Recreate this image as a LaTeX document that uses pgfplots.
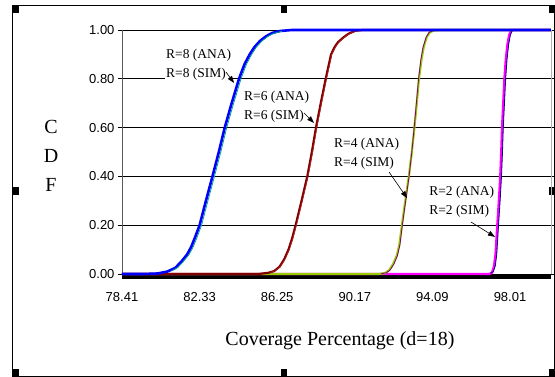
\documentclass[border=0pt]{standalone}
\usepackage{pgfplots}
\pgfplotsset{compat=1.18}
\usepackage{fontspec}
\setmainfont{Liberation Serif}
\newfontfamily\arial{Liberation Sans}
\usetikzlibrary{arrows.meta}
\definecolor{cblue}{RGB}{0,0,255}
\definecolor{cteal}{RGB}{0,160,140}
\definecolor{cmaroon}{RGB}{128,0,0}
\definecolor{cmaroon2}{RGB}{170,30,30}
\definecolor{cyg}{RGB}{153,204,0}
\definecolor{cpurple}{RGB}{128,0,128}
\definecolor{cmag}{RGB}{255,0,255}
\definecolor{cnavy}{RGB}{0,0,128}
\begin{document}
\begin{tikzpicture}
\useasboundingbox (-122pt,-103pt) rectangle (433pt,274pt);
% chart frame with selection handles
\draw[black, line width=0.8pt] (-109.5pt,-102.5pt) rectangle (432.5pt,269pt);
\foreach \hx in {-109pt,159pt,427pt}{
  \fill[black] (\hx,261pt) rectangle ++(6pt,8pt);
  \fill[black] (\hx,-103pt) rectangle ++(6pt,8pt);
}
\fill[black] (-109pt,79pt) rectangle ++(6pt,8pt);
\fill[black] (427pt,79pt) rectangle ++(6pt,8pt);
\begin{axis}[
  at={(0pt,0pt)}, anchor=south west,
  scale only axis, width=429pt, height=244pt,
  xmin=78.41, xmax=100.08, ymin=0, ymax=1,
  clip=false,
  axis line style={draw=none},
  xtick={78.41,82.33,86.25,90.17,94.09,98.01},
  xticklabels={78.41,82.33,86.25,90.17,94.09,98.01},
  x tick style={draw=none},
  ytick={0,0.2,0.4,0.6,0.8,1},
  y tick style={black, line width=0.6pt},
  tick align=outside, major tick length=4pt,
  ymajorgrids, grid style={black, line width=0.6pt},
  /pgf/number format/assume math mode=true,
  yticklabel={\pgfmathprintnumber[fixed,fixed zerofill,precision=2]{\tick}},
  tick label style={font=\arial\fontsize{13}{15}\selectfont},
  xticklabel style={yshift=-11pt},
  xlabel={Coverage Percentage (d=18)},
  xlabel style={at={(axis description cs:0.508,-0.2746)}, anchor=center, font=\fontsize{20}{23}\selectfont},
  ylabel={C\\D\\F},
  ylabel style={rotate=-90, align=center, at={(axis description cs:-0.1655,0.484)}, anchor=center, font=\fontsize{20}{29}\selectfont},
]
\draw[gray!70!black, line width=0.8pt] (rel axis cs:0,0) -- (rel axis cs:0,1);
\draw[gray!60, line width=0.8pt] (rel axis cs:1,0) -- (rel axis cs:1,1);
\draw[black, line width=4.5pt] ([yshift=-2.3pt]rel axis cs:0,0) -- ([yshift=-2.3pt]rel axis cs:1,0);
% R=2
\addplot[cmag, line width=2.4pt, line join=round] coordinates {(78.41,0) (96.95,0) (97.1,0.005) (97.2,0.03) (97.28,0.08) (97.37,0.2) (97.45,0.3) (97.52,0.4) (97.57,0.5) (97.61,0.6) (97.67,0.7) (97.73,0.8) (97.8,0.88) (97.88,0.94) (97.97,0.98) (98.09,1) (100.08,1)};
\addplot[cnavy, line width=0.8pt] coordinates {(97.03,0.003) (97.17,0.01) (97.27,0.035) (97.34,0.08) (97.43,0.2) (97.51,0.3) (97.58,0.4) (97.63,0.5) (97.67,0.6) (97.73,0.7) (97.79,0.8) (97.86,0.88) (97.94,0.94) (98.03,0.98) (98.13,0.998)};
% R=4
\addplot[cyg, line width=2.2pt, line join=round] coordinates {(78.41,0) (91.4,0) (91.7,0.004) (91.9,0.015) (92.1,0.04) (92.29,0.075) (92.42,0.12) (92.55,0.2) (92.72,0.3) (92.90,0.4) (93.05,0.5) (93.18,0.6) (93.30,0.7) (93.41,0.8) (93.54,0.88) (93.65,0.93) (93.8,0.97) (93.95,0.99) (94.16,0.998) (94.4,1) (100.08,1)};
\addplot[cpurple, line width=0.8pt] coordinates {(91.5,0.001) (91.76,0.005) (91.95,0.016) (92.14,0.04) (92.32,0.075) (92.45,0.12) (92.57,0.2) (92.74,0.3) (92.91,0.4) (93.05,0.5) (93.17,0.6) (93.28,0.7) (93.39,0.8) (93.51,0.88) (93.62,0.93) (93.77,0.97) (93.92,0.99) (94.12,0.998) (94.3,1)};
% R=6
\addplot[cmaroon, line width=2.2pt, line join=round] coordinates {(78.41,0) (85.3,0) (85.8,0.005) (86.1,0.012) (86.37,0.03) (86.6,0.06) (86.82,0.1) (87.0,0.145) (87.18,0.2) (87.48,0.3) (87.77,0.4) (88.0,0.5) (88.21,0.6) (88.45,0.7) (88.70,0.8) (88.97,0.9) (89.15,0.93) (89.32,0.95) (89.6,0.97) (89.86,0.985) (90.2,0.997) (90.6,1) (100.08,1)};
\addplot[cmaroon2, line width=0.7pt] coordinates {(85.9,0.006) (86.15,0.013) (86.41,0.03) (86.64,0.06) (86.86,0.1) (87.04,0.145) (87.22,0.2) (87.52,0.3) (87.81,0.4) (88.04,0.5) (88.25,0.6) (88.49,0.7) (88.74,0.8) (89.01,0.9) (89.19,0.93) (89.36,0.95) (89.64,0.97) (89.9,0.985) (90.24,0.997)};
% R=8
\addplot[cblue, line width=2.6pt, line join=round] coordinates {(78.41,0) (79.5,0) (80.2,0.002) (80.7,0.01) (81.1,0.025) (81.4,0.05) (81.7,0.08) (81.9,0.11) (82.1,0.15) (82.33,0.2) (82.65,0.3) (82.98,0.4) (83.3,0.5) (83.6,0.6) (83.95,0.7) (84.32,0.8) (84.6,0.86) (84.86,0.9) (85.1,0.93) (85.38,0.955) (85.7,0.975) (86.0,0.988) (86.4,0.996) (87,1) (100.08,1)};
\addplot[cteal, line width=0.8pt] coordinates {(80.9,0.012) (81.22,0.026) (81.5,0.05) (81.8,0.08) (82.0,0.11) (82.2,0.15) (82.43,0.2) (82.75,0.3) (83.08,0.4) (83.4,0.5) (83.7,0.6) (84.05,0.7) (84.42,0.8) (84.7,0.86) (84.96,0.9) (85.2,0.93) (85.48,0.955) (85.8,0.975) (86.1,0.987) (86.5,0.995)};
% labels
\tikzset{lbl/.style={anchor=west, fill=white, inner sep=1pt, align=left, font=\fontsize{13.5}{19}\selectfont}}
\node[lbl] at (axis cs:80.58,0.859) {R=8 (ANA)\\R=8 (SIM)};
\node[lbl] at (axis cs:84.52,0.684) {R=6 (ANA)\\R=6 (SIM)};
\node[lbl] at (axis cs:89.07,0.494) {R=4 (ANA)\\R=4 (SIM)};
\node[lbl] at (axis cs:93.87,0.297) {R=2 (ANA)\\R=2 (SIM)};
\tikzset{arr/.style={black, line width=0.6pt, -{Triangle[length=7pt,width=5pt]}}}
\draw[arr] (axis cs:83.66,0.828) -- (axis cs:84.07,0.783);
\draw[arr] (axis cs:87.60,0.660) -- (axis cs:88.11,0.619);
\draw[arr] (axis cs:91.90,0.418) -- (axis cs:92.81,0.311);
\draw[arr] (axis cs:96.04,0.213) -- (axis cs:97.25,0.152);
\end{axis}
\end{tikzpicture}
\end{document}
